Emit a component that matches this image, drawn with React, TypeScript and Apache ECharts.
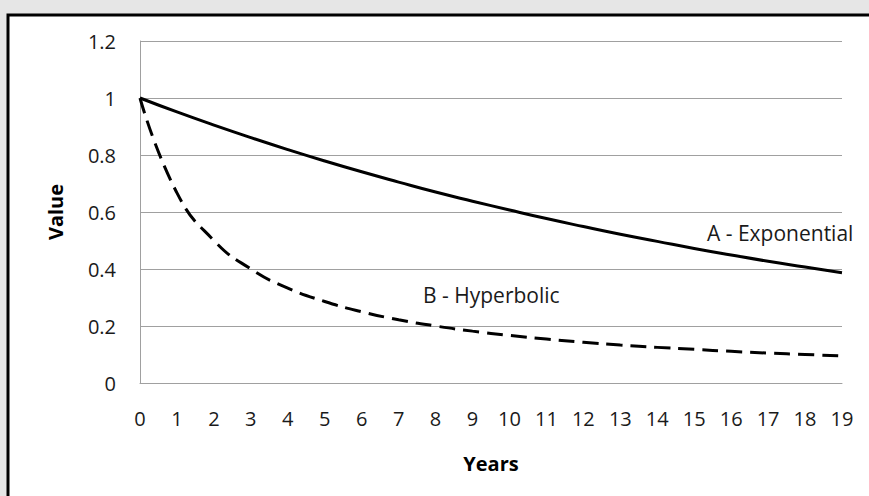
import React, { useEffect, useRef } from "react";
import * as echarts from "echarts";

const years = ["0","1","2","3","4","5","6","7","8","9","10","11","12","13","14","15","16","17","18","19"];
const exponential = [1, 0.951, 0.905, 0.861, 0.819, 0.779, 0.741, 0.705, 0.670, 0.638, 0.607, 0.577, 0.549, 0.522, 0.497, 0.472, 0.449, 0.427, 0.407, 0.387];
const hyperbolic = [1, 0.667, 0.5, 0.4, 0.333, 0.286, 0.25, 0.222, 0.2, 0.182, 0.167, 0.154, 0.143, 0.133, 0.125, 0.118, 0.111, 0.105, 0.1, 0.095];
const seriesNames = ["A - Exponential", "B - Hyperbolic"];

const FONT = "'Open Sans', 'Liberation Sans', sans-serif";

export default function App() {
  const ref = useRef<HTMLDivElement>(null);
  useEffect(() => {
    if (!ref.current) return;
    const chart = echarts.init(ref.current, null, { renderer: "svg" });
    chart.setOption({
      animation: false,
      backgroundColor: "#e6e6e6",
      graphic: [
        {
          type: "rect",
          z: -10,
          silent: true,
          shape: { x: 8, y: 15, width: 900, height: 520 },
          style: { fill: "#ffffff", stroke: "#000000", lineWidth: 3 },
        },
        {
          type: "text",
          x: 707,
          y: 233,
          style: { text: seriesNames[0], font: `21px ${FONT}`, fill: "#1a1a1a", align: "left", verticalAlign: "middle" },
        },
        {
          type: "text",
          x: 423,
          y: 295,
          style: { text: seriesNames[1], font: `21px ${FONT}`, fill: "#1a1a1a", align: "left", verticalAlign: "middle" },
        },
      ],
      grid: { left: 140, right: 27, top: 41, bottom: 113 },
      xAxis: {
        type: "category",
        data: years,
        boundaryGap: false,
        name: "Years",
        nameLocation: "middle",
        nameGap: 70,
        nameTextStyle: { fontFamily: FONT, fontSize: 20, fontWeight: "bold", color: "#000" },
        axisLine: { lineStyle: { color: "#a0a0a0", width: 1 } },
        axisTick: { show: false },
        axisLabel: { fontFamily: FONT, fontSize: 20, color: "#1a1a1a", margin: 25 },
        splitLine: { show: false },
      },
      yAxis: {
        type: "value",
        min: 0,
        max: 1.2,
        interval: 0.2,
        name: "Value",
        nameLocation: "middle",
        nameGap: 75,
        nameTextStyle: { fontFamily: FONT, fontSize: 20, fontWeight: "bold", color: "#000" },
        axisLine: { show: true, lineStyle: { color: "#a0a0a0", width: 1 } },
        axisTick: { show: false },
        axisLabel: {
          fontFamily: FONT,
          fontSize: 20,
          color: "#1a1a1a",
          margin: 24,
          formatter: (v: number) => String(Math.round(v * 10) / 10),
        },
        splitLine: { lineStyle: { color: "#a0a0a0", width: 1 } },
      },
      series: [
        {
          name: seriesNames[0],
          type: "line",
          data: exponential,
          smooth: true,
          symbol: "none",
          lineStyle: { color: "#000", width: 3 },
        },
        {
          name: seriesNames[1],
          type: "line",
          data: hyperbolic,
          smooth: true,
          symbol: "none",
          lineStyle: { color: "#000", width: 3, type: [16, 8] },
        },
      ],
    });
    return () => chart.dispose();
  }, []);
  return (
    <div
      ref={ref}
      style={{ position: "absolute", left: 0, top: 0, width: 869, height: 496 }}
    />
  );
}
